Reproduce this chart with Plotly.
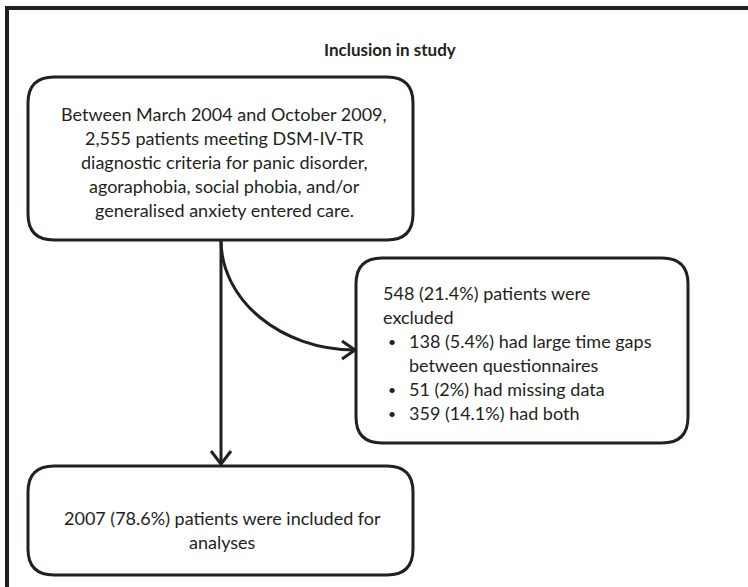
import plotly.graph_objects as go

# ---- content (texts) ----
title_text = "Inclusion in study"
entered_lines = [
    "Between March 2004 and October 2009,",
    "2,555 patients meeting DSM-IV-TR",
    "diagnostic criteria for panic disorder,",
    "agoraphobia, social phobia, and/or",
    "generalised anxiety entered care.",
]
excluded_head = ["548 (21.4%) patients were", "excluded"]
excluded_bullets = [
    ["138 (5.4%) had large time gaps", "between questionnaires"],
    ["51 (2%) had missing data"],
    ["359 (14.1%) had both"],
]
included_lines = ["2007 (78.6%) patients were included for", "analyses"]

# ---- layout constants ----
W, H = 748, 587
INK = "#231f20"
FONT = "Lato"
FS = 18
LINE = 24

fig = go.Figure()
shapes = []
annotations = []


def rounded_box(x0, y0, x1, y1, r):
    return (f"M {x0+r} {y0} L {x1-r} {y0} Q {x1} {y0} {x1} {y0+r} "
            f"L {x1} {y1-r} Q {x1} {y1} {x1-r} {y1} "
            f"L {x0+r} {y1} Q {x0} {y1} {x0} {y1-r} "
            f"L {x0} {y0+r} Q {x0} {y0} {x0+r} {y0} Z")


def add_path(p, width=3):
    shapes.append(dict(type="path", path=p, xref="x", yref="y",
                       line=dict(color=INK, width=width), fillcolor="rgba(0,0,0,0)"))


def add_text(x, y, s, anchor="center", bold=False, size=FS):
    annotations.append(dict(x=x, y=y, xref="x", yref="y", text=(f"<b>{s}</b>" if bold else s),
                            showarrow=False, xanchor=anchor, yanchor="middle",
                            font=dict(family=FONT, size=size, color=INK)))


# outer frame (top + left edges)
add_path(f"M 7 {H+5} L 7 8 L {W+5} 8", width=4)

# boxes
B1 = (28, 77, 413, 240)
B2 = (356, 258, 688, 443)
B3 = (28, 466, 413, 575)
for b in (B1, B2, B3):
    add_path(rounded_box(*b, 26))

# vertical arrow
cx = 221
add_path(f"M {cx} {B1[3]} L {cx} {B3[1]-2}")
add_path(f"M {cx-10} {B3[1]-15} L {cx} {B3[1]-2} L {cx+10} {B3[1]-15}")

# curved arrow (quarter ellipse)
ax, ay = B2[0], 350
rx, ry = ax - cx, ay - B1[3]
k = 0.5523
add_path(f"M {cx} {B1[3]} C {cx} {B1[3]+k*ry} {ax-k*rx} {ay} {ax-1} {ay}")
add_path(f"M {ax-14} {ay-9} L {ax-1} {ay} L {ax-14} {ay+9}")

# title
add_text(390, 49, title_text, bold=True, size=17)

# box 1 text
for i, s in enumerate(entered_lines):
    add_text(cx + 3, 114 + i * LINE, s)

# box 2 text
y = 293
for s in excluded_head:
    add_text(381, y, s, anchor="left")
    y += LINE
for item in excluded_bullets:
    add_text(386, y, "•", anchor="left", size=14)
    for s in item:
        add_text(407, y, s, anchor="left")
        y += LINE

# box 3 text
for i, s in enumerate(included_lines):
    add_text(cx + 1, 518 + i * LINE, s)

fig.update_layout(
    width=W, height=H, margin=dict(l=0, r=0, t=0, b=0),
    paper_bgcolor="white", plot_bgcolor="white",
    xaxis=dict(range=[0, W], visible=False, fixedrange=True),
    yaxis=dict(range=[H, 0], visible=False, fixedrange=True),
    shapes=shapes, annotations=annotations, showlegend=False,
)
# remove the browser's default 8px page margin so the figure sits at the window origin
fig.write_html("out.html", config={"displayModeBar": False},
               post_script="document.body.style.margin='0';")
